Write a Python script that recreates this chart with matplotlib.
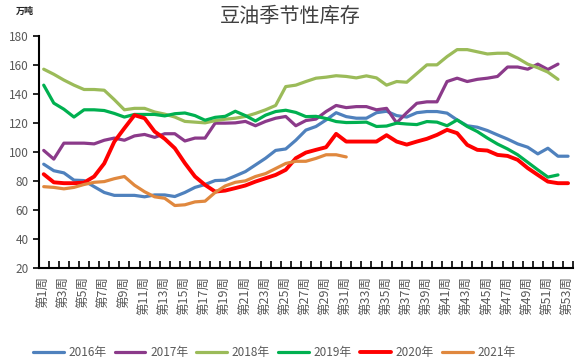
import numpy as np
import matplotlib
matplotlib.use('Agg')
import matplotlib.pyplot as plt
from matplotlib.ticker import FixedLocator

plt.rcParams['font.family'] = ['Noto Sans CJK SC', 'DejaVu Sans']

nan = np.nan
weeks = np.arange(1, 54)
week_labels = ['第%d周' % w for w in weeks]

# 万吨
y2016 = [91.5, 87, 85.5, 80.5, 80.2, 76, 72, 70, 70, 70, 69, 70.3, 70.3, 69.2, 72, 75.5,
         77.5, 80.2, 80.5, 83.4, 86.4, 91, 95.6, 101, 102, 108, 115, 117.5, 122, 127,
         124.3, 123.2, 123.2, 127, 128, 125, 124, 127, 127.8, 127.8, 126.7, 122, 118,
         117, 114.7, 111.7, 108.8, 105.5, 103.2, 98.6, 102.5, 97, 97]
y2017 = [101, 95, 106, 106, 106, 105.5, 108, 109.5, 108, 111, 112, 110, 112.5, 112.5,
         107.5, 109.5, 109.5, 119.8, 119.8, 120, 121, 118, 121, 123.2, 124.4, 118, 121.6,
         122.6, 127.8, 132, 130.5, 131.2, 131.2, 129, 130, 120, 127, 133.5, 134.5, 134.5,
         148.5, 150.8, 148.5, 150, 150.8, 152, 158.5, 158.5, 157, 160.5, 156.8, 160.5, nan]
y2018 = [157, 153.5, 149.5, 146, 143, 143, 142.5, 136, 129, 130, 130, 127.5, 126, 124,
         121, 120.5, 120, 121.5, 122.5, 123.2, 124.4, 126.5, 129, 132, 145, 146, 148.5,
         150.8, 151.5, 152.5, 152, 151, 152.4, 151, 146, 148.5, 148, 154, 160, 160, 165.7,
         170.5, 170.5, 169, 167.5, 168, 168, 164.6, 160.5, 158, 155, 150, nan]
y2019 = [146, 133.6, 129.4, 124, 129, 129, 128.5, 126.5, 124, 125.8, 125.8, 125.8, 124.8,
         126.3, 126.8, 125, 121.8, 123.8, 124.5, 128, 125, 121.3, 125.3, 127.8, 128.7,
         127.2, 124.3, 124.5, 123, 120.9, 120.2, 120.3, 120.5, 117.5, 117.8, 119.8, 119.2,
         118.8, 120.9, 120.5, 118, 122, 117.5, 114, 109.5, 105.4, 102, 98, 92.8, 87.6,
         82.6, 84.1, nan]
y2020 = [84.6, 79, 78.4, 78.4, 78.8, 83, 92, 107, 116.3, 125.3, 123.2, 114, 109, 102.5,
         92.2, 83, 77.2, 72.6, 73.3, 75, 76.8, 79.5, 81.8, 84.1, 87.6, 95.6, 99.5, 101.4,
         103.2, 112.4, 107.1, 107.1, 107.1, 107.1, 111.5, 107.1, 105, 107.1, 109, 111.7,
         115.2, 112.9, 104.8, 101.4, 100.9, 97.9, 97.2, 94.5, 88.8, 84.1, 79.5, 78.4, 78.4]
y2021 = [76, 75.5, 74.5, 75.5, 77.5, 79, 79.5, 81.5, 83, 77, 72.5, 69, 68, 63, 63.5, 65.5,
         66, 72, 76.5, 79, 80, 83, 85, 88.5, 92, 93.5, 93.5, 95.5, 98, 98, 96.5]

series = [('2016年', y2016, '#4f81bd', 2.3),
          ('2017年', y2017, '#8b3a8a', 2.3),
          ('2018年', y2018, '#9bbb59', 2.3),
          ('2019年', y2019, '#00b050', 2.3),
          ('2020年', y2020, '#ff0000', 2.8),
          ('2021年', y2021, '#e0883e', 2.3)]

fig = plt.figure(figsize=(5.86, 3.62), dpi=100)
ax = fig.add_axes([0.066, 0.26, 0.912, 0.641])

for name, vals, col, lw in series:
    ax.plot(weeks[:len(vals)], vals, color=col, lw=lw, label=name,
            solid_joinstyle='round', solid_capstyle='round')

ax.set_xlim(0.5, 53.5)
ax.set_ylim(20, 180)
ax.set_yticks(np.arange(20, 181, 20))

# tick marks sit between weeks, labels on every other week
ax.xaxis.set_major_locator(FixedLocator(np.arange(0.5, 54, 1)))
ax.xaxis.set_major_formatter(plt.NullFormatter())
ax.xaxis.set_minor_locator(FixedLocator(weeks[::2]))
ax.set_xticklabels(week_labels[::2], minor=True, rotation=90)
ax.tick_params(axis='x', which='major', direction='in', length=5, width=1.2, color='black')
ax.tick_params(axis='x', which='minor', length=0, pad=6, labelsize=9, labelcolor='#595959')
ax.tick_params(axis='y', direction='out', length=4, width=1.2, pad=3,
               labelsize=8.5, labelcolor='#595959')

for s in ['top', 'right']:
    ax.spines[s].set_visible(False)
for s in ['left', 'bottom']:
    ax.spines[s].set_linewidth(1.5)
    ax.spines[s].set_color('black')

fig.text(0.495, 0.955, '豆油季节性库存', ha='center', va='center', fontsize=14.5,
         color='#404040')
fig.text(0.027, 0.968, '万吨', ha='left', va='center', fontsize=6.5, color='#222222',
         fontweight='bold')

fig.legend(loc='center', bbox_to_anchor=(0.468, 0.027), ncol=6, frameon=False,
           fontsize=8.5, handlelength=2.6, handletextpad=0.4, columnspacing=0.7,
           labelcolor='#595959')

fig.savefig('out.png', dpi=100)
